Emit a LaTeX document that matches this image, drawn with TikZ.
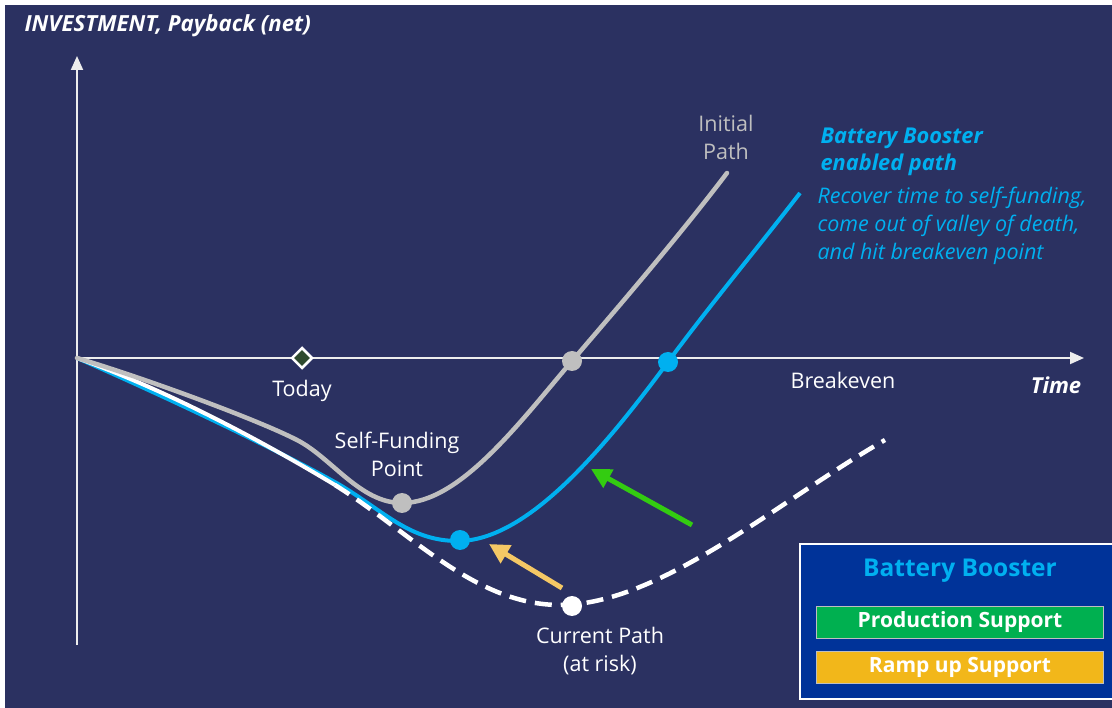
\documentclass[tikz,border=0pt]{standalone}
\usepackage{fontspec}
\setmainfont{Open Sans}
\usetikzlibrary{arrows.meta,shapes.geometric}
\definecolor{navy}{HTML}{2B3161}
\definecolor{axisc}{HTML}{EDEDED}
\definecolor{grayc}{HTML}{BFBFBF}
\definecolor{bluec}{HTML}{00B0F0}
\definecolor{boxblue}{HTML}{003399}
\definecolor{greenbox}{HTML}{00B050}
\definecolor{yellowbox}{HTML}{F2B71A}
\definecolor{greenarr}{HTML}{33CC11}
\definecolor{yellowarr}{HTML}{F5C865}
\definecolor{todayc}{HTML}{2E4A2E}
\tikzset{
  axisline/.style={axisc,line width=2pt,-{Triangle[length=14pt,width=12pt]}},
  dot/.style={circle,inner sep=0pt,minimum size=20pt},
  lbl/.style={text=white,font=\fontsize{21.5}{28}\selectfont,align=center},
  bigarrow/.style={line width=5pt,-{Triangle[length=20pt,width=20pt]}},
  legbox/.style={draw=grayc,line width=1pt,minimum width=287pt,minimum height=32pt,text=white,font=\bfseries\fontsize{21}{24}\selectfont},
}
\begin{document}
\begin{tikzpicture}[x=1pt,y=-1pt]
\useasboundingbox (0,0) rectangle (1112,708);
\fill[white] (0,0) rectangle (1112,708);
\fill[navy] (5,5) rectangle (1112,708);
% axes
\coordinate (O) at (77,358);
\coordinate (ybot) at (77,645);
\coordinate (ytop) at (77,56);
\coordinate (xend) at (1084,358);
\draw[axisline] (ybot) -- (ytop);
\draw[axisline] (O) -- (xend);
% title
\node[anchor=base west,text=white,font=\bfseries\itshape\fontsize{22.2}{26}\selectfont] (title) at (21,32) {INVESTMENT, Payback (net)};
% today
\node[diamond,draw=white,fill=todayc,line width=2.5pt,inner sep=0pt,minimum size=21pt] (today) at (302,358) {};
\node[lbl] (todaylbl) at (302,391) {Today};
\node[lbl] (breakeven) at (843,380) {Breakeven};
\node[text=white,font=\bfseries\itshape\fontsize{22}{26}\selectfont] (time) at (1056,385) {Time};
% blue path
\draw[bluec,line width=4pt] (O) .. controls (200,412) and (300,462) .. (340,485) .. controls (385,512) and (410,541) .. (458,541) .. controls (530,541) and (610,440) .. (668,362) .. controls (710,305) and (760,245) .. (800,193);
% white current path
\draw[white,line width=4pt] (O) .. controls (180,395) and (280,452) .. (335,485);
\draw[white,line width=4.5pt,dash pattern=on 17pt off 9pt] (335,485) .. controls (410,532) and (475,605) .. (560,605) .. controls (660,605) and (780,500) .. (885,440);
% gray initial path
\draw[grayc,line width=4.5pt,line cap=round] (O) .. controls (150,380) and (258,420) .. (297,440) .. controls (332,458) and (360,503) .. (402,503) .. controls (460,503) and (520,422) .. (572,361) .. controls (620,305) and (680,235) .. (727,173);
% dots
\node[dot,fill=grayc] (sfgray) at (402,503) {};
\node[dot,fill=bluec] (sfblue) at (460,540) {};
\node[dot,fill=white] (cur) at (572,606) {};
\node[dot,fill=grayc] (begray) at (572,361) {};
\node[dot,fill=bluec] (beblue) at (668,362) {};
% labels
\node[lbl] (sflbl) at (397,454) {Self-Funding\\Point};
\node[lbl] (curlbl) at (600,651) {Current Path\\(at risk)};
\node[lbl,text=grayc] (initlbl) at (726,137) {Initial\\Path};
\node[anchor=base west,text=bluec,align=left,font=\bfseries\itshape\fontsize{21.8}{27}\selectfont] (bblbl) at (817,171) {Battery Booster\\enabled path};
\node[anchor=base west,text=bluec,align=left,font=\itshape\fontsize{21.5}{28}\selectfont] (reclbl) at (814,260) {Recover time to self-funding,\\come out of valley of death,\\and hit breakeven point};
% arrows
\coordinate (ga1) at (692,525);
\coordinate (ga2) at (591,469);
\coordinate (ya1) at (562,588);
\coordinate (ya2) at (489,544);
\draw[bigarrow,greenarr] (ga1) -- (ga2);
\draw[bigarrow,yellowarr] (ya1) -- (ya2);
% legend
\begin{scope}
\clip (0,0) rectangle (1112,708);
\draw[white,fill=boxblue,line width=2.5pt] (800,544) rectangle (1120,699);
\end{scope}
\node[text=bluec,font=\bfseries\fontsize{24.5}{28}\selectfont] (legtitle) at (960,571) {Battery Booster};
\node[legbox,fill=greenbox] (prod) at (960,622) {Production Support};
\node[legbox,fill=yellowbox] (ramp) at (960,667) {Ramp up Support};
\end{tikzpicture}
\end{document}
